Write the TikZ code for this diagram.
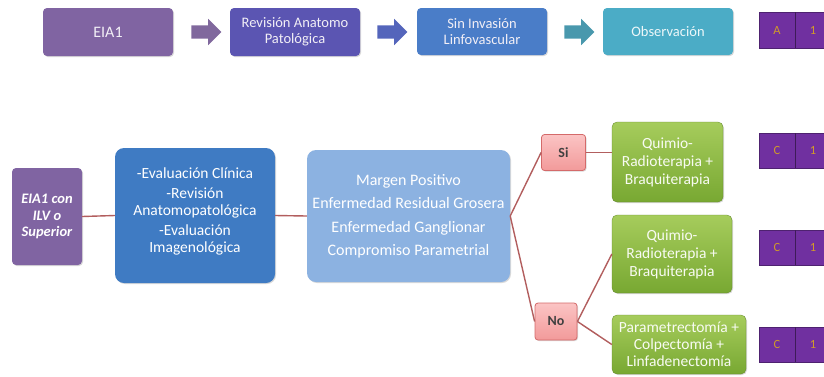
\documentclass[tikz,border=0pt]{standalone}
\usepackage{fontspec}
\setmainfont{Carlito}
\usetikzlibrary{shapes.arrows,shadows,positioning}
\definecolor{cpurple}{HTML}{8064A2}
\definecolor{cindigo}{HTML}{5B55B2}
\definecolor{cblue}{HTML}{4A7DC8}
\definecolor{cteal}{HTML}{4BACC6}
\definecolor{cdark}{HTML}{3F7BC3}
\definecolor{clight}{HTML}{8CB2E1}
\definecolor{cviolet}{HTML}{7030A0}
\definecolor{cgold}{HTML}{D09A2A}
\definecolor{cline}{HTML}{B25E5E}
\definecolor{cgreenT}{HTML}{A6CC5C}
\definecolor{cgreenB}{HTML}{78A832}
\definecolor{cpinkT}{HTML}{FBC4C4}
\definecolor{cpinkB}{HTML}{F29A9A}
\definecolor{cpinkD}{HTML}{D46A6A}
\tikzset{
  box/.style={rounded corners=4pt, inner sep=2pt, align=center, text=white!90!cpurple,
    drop shadow={opacity=0.3, shadow xshift=1pt, shadow yshift=-1pt}},
  topbox/.style={box, minimum width=130pt, minimum height=48pt, font=\fontsize{14.5}{16}\selectfont},
  blockarrow/.style={single arrow, single arrow head extend=6.5pt, minimum height=30pt,
    inner xsep=0pt, inner ysep=6.5pt, draw=none},
  bigbox/.style={box, rounded corners=9pt, text=white, font=\fontsize{15.5}{16.5}\selectfont},
  greenbox/.style={box, rounded corners=5pt, top color=cgreenT, bottom color=cgreenB,
    draw=cgreenB!80!black, line width=0.3pt, text=white!92!cgreenT,
    font=\fontsize{15.5}{18}\selectfont},
  decbox/.style={box, rounded corners=3pt, top color=cpinkT, bottom color=cpinkB,
    draw=cpinkD, line width=0.8pt, text=black!75, font=\bfseries\fontsize{14}{16}\selectfont},
  levelbox/.style={fill=cviolet, draw=cviolet!70!black, line width=0.3pt},
  leveltext/.style={text=cgold, font=\fontsize{12.5}{14}\selectfont},
  conn/.style={draw=cline, line width=1.4pt},
}
\begin{document}
\begin{tikzpicture}[x=1pt,y=-1pt]
\useasboundingbox (0,0) rectangle (824,376);
% top row
\node[topbox, fill=cpurple, font=\fontsize{16}{18}\selectfont] (t1) at (108,32) {EIA1};
\node[blockarrow, fill=cpurple!85!gray] (a1) at (203,32) {};
\node[topbox, fill=cindigo] (t2) at (295,32) {Revisión Anatomo\\Patológica};
\node[blockarrow, fill=cindigo!60!cblue] (a2) at (389,32) {};
\node[topbox, fill=cblue, minimum height=47pt] (t3) at (482,31.5) {Sin Invasión\\Linfovascular};
\node[blockarrow, fill=cteal!85!black!95] (a3) at (576,32) {};
\node[topbox, fill=cteal, minimum height=47pt, text=white!90!cteal] (t4) at (668,31.5) {Observación};
% level boxes
\foreach \n/\yt/\yb/\l/\r in {l1/12/48/A/1, l2/133/168/C/1, l3/230/265/C/1, l4/327/362/C/1}{
  \fill[levelbox] (759,\yt) rectangle (826,\yb);
  \draw[cviolet!55!black, line width=0.4pt] (795,\yt) -- (795,\yb);
  \node[leveltext] (\n a) at (777,{(\yt+\yb)/2}) {\l};
  \node[leveltext] (\n b) at (813,{(\yt+\yb)/2}) {\r};
}
% second section
\node[box, fill=cpurple, minimum width=70pt, minimum height=97pt, text=white,
  font=\bfseries\itshape\fontsize{14.5}{16.5}\selectfont] (e2) at (47,216.5) {EIA1 con\\ILV o\\Superior};
\node[bigbox, fill=cdark, minimum width=160pt, minimum height=135pt] (ev) at (195,215.5)
  {-Evaluación Clínica\\[4pt]-Revisión\\Anatomopatológica\\[4pt]-Evaluación\\Imagenológica\\[-5pt]\mbox{}};
\node[bigbox, fill=clight, minimum width=203pt, minimum height=132pt,
  font=\fontsize{16}{23.5}\selectfont] (mg) at (408.5,216)
  {Margen Positivo\\Enfermedad Residual Grosera\\Enfermedad Ganglionar\\Compromiso Parametrial};
\node[decbox, minimum width=44pt, minimum height=36pt] (si) at (563.5,152.5) {Si};
\node[decbox, minimum width=42pt, minimum height=37pt] (no) at (556,321.5) {No};
\node[greenbox, minimum width=111pt, minimum height=80pt] (g1) at (667.5,162) {Quimio-\\Radioterapia +\\Braquiterapia};
\node[greenbox, minimum width=120pt, minimum height=78pt] (g2) at (672,254) {Quimio-\\Radioterapia +\\Braquiterapia};
\node[greenbox, minimum width=134pt, minimum height=59pt, font=\fontsize{15.5}{17}\selectfont] (g3) at (679,344.5) {Parametrectomía +\\Colpectomía +\\Linfadenectomía};
% connectors
\draw[conn] (e2.east) -- (ev.west);
\draw[conn] (ev.east) -- (mg.west);
\draw[conn] (mg.east) -- (si.west);
\draw[conn] (mg.east) -- (no.west);
\draw[conn] (si.east) -- (si.east -| g1.west);
\draw[conn] (no.east) -- (g2.west);
\draw[conn] (no.east) -- (g3.west);
\end{tikzpicture}
\end{document}
